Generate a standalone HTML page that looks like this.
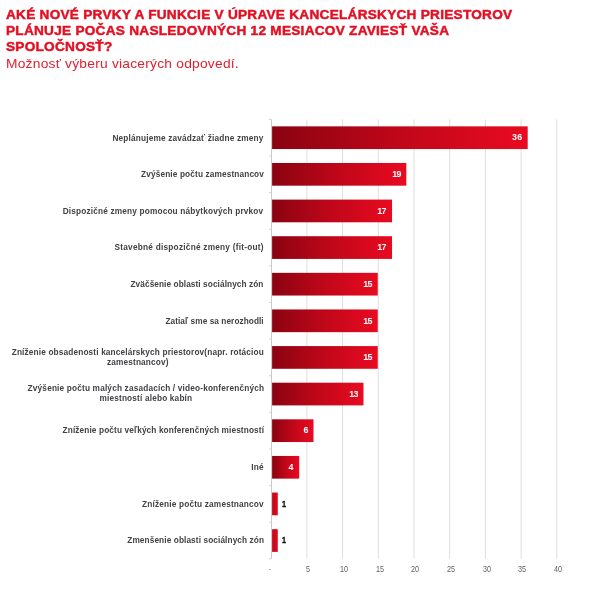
<!DOCTYPE html>
<html lang="sk"><head><meta charset="utf-8"><title>Graf</title>
<style>
html,body{margin:0;padding:0;background:#fff;}
body{width:612px;height:607px;position:relative;overflow:hidden;font-family:"Liberation Sans",sans-serif;}
.t{position:absolute;left:5.8px;top:6.66px;margin:0;color:#e30f22;font-weight:bold;font-size:13.1px;line-height:16px;letter-spacing:0.25px;white-space:nowrap;transform:scaleX(1.04);transform-origin:0 0;-webkit-text-stroke:0.45px #e30f22;}
.s{position:absolute;left:6.4px;top:56.3px;margin:0;color:#e2202f;font-weight:normal;font-size:13.4px;line-height:15px;white-space:nowrap;letter-spacing:0.22px;transform:scaleX(1.03);transform-origin:0 0;}
.c{position:absolute;left:0;top:0;}
.l{position:absolute;right:348.3px;color:#424246;font-weight:bold;font-size:7.8px;line-height:9.0px;text-align:center;white-space:nowrap;letter-spacing:0.16px;transform:scale(1.06,1.11);transform-origin:100% 50%;}
.v{position:absolute;font-weight:bold;font-size:8.1px;line-height:10px;color:#fff;white-space:nowrap;letter-spacing:0.3px;transform:scale(1.1,1.12);transform-origin:100% 50%;}
.v.o{color:#161616;transform:scale(0.9,1.12);transform-origin:0 50%;-webkit-text-stroke:0.35px #161616;}
.v i{font-style:normal;margin:0 -0.9px 0 -1.0px;}
.x{position:absolute;top:565.0px;width:30px;text-align:center;font-size:8.2px;line-height:10px;color:#5e6066;transform:scaleX(0.88);}
</style></head><body>
<h1 class="t">AKÉ NOVÉ PRVKY A FUNKCIE V ÚPRAVE KANCELÁRSKYCH PRIESTOROV<br>PLÁNUJE POČAS NASLEDOVNÝCH 12 MESIACOV ZAVIESŤ VAŠA<br>SPOLOČNOSŤ?</h1>
<p class="s">Možnosť výberu viacerých odpovedí.</p>

<svg class="c" width="612" height="607" viewBox="0 0 612 607"><defs><linearGradient id="g" x1="0" y1="0" x2="1" y2="0"><stop offset="0" stop-color="#8a0311"/><stop offset="0.5" stop-color="#c00719"/><stop offset="1" stop-color="#e90a21"/></linearGradient><linearGradient id="g1" x1="0" y1="0" x2="1" y2="0"><stop offset="0" stop-color="#c0081a"/><stop offset="1" stop-color="#de0a1f"/></linearGradient></defs>
<line x1="306.90" y1="119.4" x2="306.90" y2="558.8" stroke="#dedede" stroke-width="1"/>
<line x1="342.60" y1="119.4" x2="342.60" y2="558.8" stroke="#dedede" stroke-width="1"/>
<line x1="378.30" y1="119.4" x2="378.30" y2="558.8" stroke="#dedede" stroke-width="1"/>
<line x1="414.00" y1="119.4" x2="414.00" y2="558.8" stroke="#dedede" stroke-width="1"/>
<line x1="449.70" y1="119.4" x2="449.70" y2="558.8" stroke="#dedede" stroke-width="1"/>
<line x1="485.40" y1="119.4" x2="485.40" y2="558.8" stroke="#dedede" stroke-width="1"/>
<line x1="521.10" y1="119.4" x2="521.10" y2="558.8" stroke="#dedede" stroke-width="1"/>
<line x1="556.80" y1="119.4" x2="556.80" y2="558.8" stroke="#dedede" stroke-width="1"/>
<line x1="271.50" y1="119.4" x2="271.50" y2="558.8" stroke="#cacaca" stroke-width="1"/>
<line x1="268.90" y1="119.40" x2="271.50" y2="119.40" stroke="#d2d2d2" stroke-width="1"/>
<line x1="268.90" y1="156.02" x2="271.50" y2="156.02" stroke="#d2d2d2" stroke-width="1"/>
<line x1="268.90" y1="192.64" x2="271.50" y2="192.64" stroke="#d2d2d2" stroke-width="1"/>
<line x1="268.90" y1="229.26" x2="271.50" y2="229.26" stroke="#d2d2d2" stroke-width="1"/>
<line x1="268.90" y1="265.88" x2="271.50" y2="265.88" stroke="#d2d2d2" stroke-width="1"/>
<line x1="268.90" y1="302.50" x2="271.50" y2="302.50" stroke="#d2d2d2" stroke-width="1"/>
<line x1="268.90" y1="339.12" x2="271.50" y2="339.12" stroke="#d2d2d2" stroke-width="1"/>
<line x1="268.90" y1="375.74" x2="271.50" y2="375.74" stroke="#d2d2d2" stroke-width="1"/>
<line x1="268.90" y1="412.36" x2="271.50" y2="412.36" stroke="#d2d2d2" stroke-width="1"/>
<line x1="268.90" y1="448.98" x2="271.50" y2="448.98" stroke="#d2d2d2" stroke-width="1"/>
<line x1="268.90" y1="485.60" x2="271.50" y2="485.60" stroke="#d2d2d2" stroke-width="1"/>
<line x1="268.90" y1="522.22" x2="271.50" y2="522.22" stroke="#d2d2d2" stroke-width="1"/>
<line x1="268.90" y1="558.84" x2="271.50" y2="558.84" stroke="#d2d2d2" stroke-width="1"/>
<rect x="272.10" y="126.36" width="255.59" height="22.7" fill="url(#g)"/>
<rect x="272.10" y="162.98" width="134.21" height="22.7" fill="url(#g)"/>
<rect x="272.10" y="199.60" width="119.93" height="22.7" fill="url(#g)"/>
<rect x="272.10" y="236.22" width="119.93" height="22.7" fill="url(#g)"/>
<rect x="272.10" y="272.84" width="105.65" height="22.7" fill="url(#g)"/>
<rect x="272.10" y="309.46" width="105.65" height="22.7" fill="url(#g)"/>
<rect x="272.10" y="346.08" width="105.65" height="22.7" fill="url(#g)"/>
<rect x="272.10" y="382.70" width="91.37" height="22.7" fill="url(#g)"/>
<rect x="272.10" y="419.32" width="41.39" height="22.7" fill="url(#g)"/>
<rect x="272.10" y="455.94" width="27.11" height="22.7" fill="url(#g)"/>
<rect x="272.10" y="492.56" width="5.69" height="22.7" fill="url(#g1)"/>
<rect x="272.10" y="529.18" width="5.69" height="22.7" fill="url(#g1)"/>
</svg>
<div class="l" style="top:133.5px;letter-spacing:0.16px">Neplánujeme zavádzať žiadne zmeny</div>
<div class="v" style="right:89.3px;top:133.4px">36</div>
<div class="l" style="top:170.1px;letter-spacing:0.125px">Zvýšenie počtu zamestnancov</div>
<div class="v" style="right:210.7px;top:170.0px"><i>1</i>9</div>
<div class="l" style="top:206.7px;letter-spacing:0.16px">Dispozičné zmeny pomocou nábytkových prvkov</div>
<div class="v" style="right:225.0px;top:206.6px"><i>1</i>7</div>
<div class="l" style="top:243.3px;letter-spacing:0.22px">Stavebné dispozičné zmeny (fit-out)</div>
<div class="v" style="right:225.0px;top:243.3px"><i>1</i>7</div>
<div class="l" style="top:279.9px;letter-spacing:0.075px">Zväčšenie oblasti sociálnych zón</div>
<div class="v" style="right:239.3px;top:279.9px"><i>1</i>5</div>
<div class="l" style="top:316.6px;letter-spacing:0.055px">Zatiaľ sme sa nerozhodli</div>
<div class="v" style="right:239.3px;top:316.5px"><i>1</i>5</div>
<div class="l" style="top:347.7px;letter-spacing:0.138px">Zníženie obsadenosti kancelárskych priestorov(napr. rotáciou<br>zamestnancov)</div>
<div class="v" style="right:239.3px;top:353.1px"><i>1</i>5</div>
<div class="l" style="top:384.3px;letter-spacing:0.16px">Zvýšenie počtu malých zasadacích / video-konferenčných<br>miestností alebo kabín</div>
<div class="v" style="right:253.5px;top:389.7px"><i>1</i>3</div>
<div class="l" style="top:426.4px;letter-spacing:0.108px">Zníženie počtu veľkých konferenčných miestností</div>
<div class="v" style="right:303.5px;top:426.4px">6</div>
<div class="l" style="top:463.0px;letter-spacing:0.16px">Iné</div>
<div class="v" style="right:317.8px;top:463.0px">4</div>
<div class="l" style="top:499.7px;letter-spacing:0.16px">Zníženie počtu zamestnancov</div>
<div class="v o" style="left:282.5px;top:499.6px"><i>1</i></div>
<div class="l" style="top:536.3px;letter-spacing:0.095px">Zmenšenie oblasti sociálnych zón</div>
<div class="v o" style="left:282.5px;top:536.2px"><i>1</i></div>
<div class="x" style="left:254.9px">-</div>
<div class="x" style="left:293.2px">5</div>
<div class="x" style="left:328.9px">10</div>
<div class="x" style="left:364.6px">15</div>
<div class="x" style="left:400.3px">20</div>
<div class="x" style="left:436.0px">25</div>
<div class="x" style="left:471.7px">30</div>
<div class="x" style="left:507.4px">35</div>
<div class="x" style="left:543.1px">40</div>
</body></html>
